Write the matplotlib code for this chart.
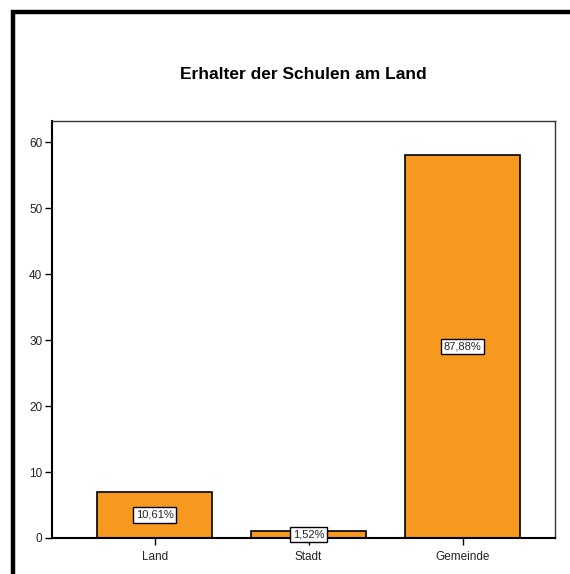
import matplotlib
matplotlib.use("Agg")
import matplotlib.pyplot as plt
from matplotlib.patches import Rectangle

categories = ["Land", "Stadt", "Gemeinde"]
counts = [7, 1, 58]
pct_labels = ["10,61%", "1,52%", "87,88%"]
yticks = [0, 10, 20, 30, 40, 50, 60]
title = "Erhalter der Schulen am Land"

plt.rcParams['font.family'] = ['Liberation Sans', 'DejaVu Sans']

W, H = 570, 574
fig = plt.figure(figsize=(W/100, H/100), dpi=100)
fig.patch.set_facecolor("white")

# Thick frame (left and top visible)
fig.add_artist(Rectangle((12.5/W, -0.1), 1.2, 1 - 11.5/H + 0.1, transform=fig.transFigure,
                         fill=False, edgecolor="black", linewidth=3.2))

ax_l, ax_r, ax_t, ax_b = 52, 555, 121, 538
ax = fig.add_axes([ax_l/W, 1 - ax_b/H, (ax_r-ax_l)/W, (ax_b-ax_t)/H])

x = list(range(len(categories)))
ax.bar(x, counts, width=0.747, color="#F7981F", edgecolor="black", linewidth=1.2, zorder=2)
for xi, c, lab in zip(x, counts, pct_labels):
    ax.text(xi, c/2, lab, ha="center", va="center", fontsize=8, color="#222222", zorder=3,
            bbox=dict(boxstyle="square,pad=0.25", facecolor="white", edgecolor="black", linewidth=1))

ax.set_xlim(-0.666, 2.6)
ax.set_ylim(0, 63.2)
ax.set_yticks(yticks)
ax.set_yticklabels([str(t) for t in yticks])
ax.set_xticks(x)
ax.set_xticklabels(categories)
ax.tick_params(axis="both", direction="out", length=5, width=1, labelsize=8.5, colors="black",
               labelcolor="#222222", pad=2)
ax.tick_params(axis="x", pad=4)
for s in ["left", "bottom"]:
    ax.spines[s].set_linewidth(1.5)
for s in ["top", "right"]:
    ax.spines[s].set_linewidth(1.0)
    ax.spines[s].set_color("#333333")

fig.text((52+555)/2/W, 1 - 74/H, title, ha="center", va="center", fontsize=12.5, fontweight="bold")

fig.savefig("out.png", dpi=100)
